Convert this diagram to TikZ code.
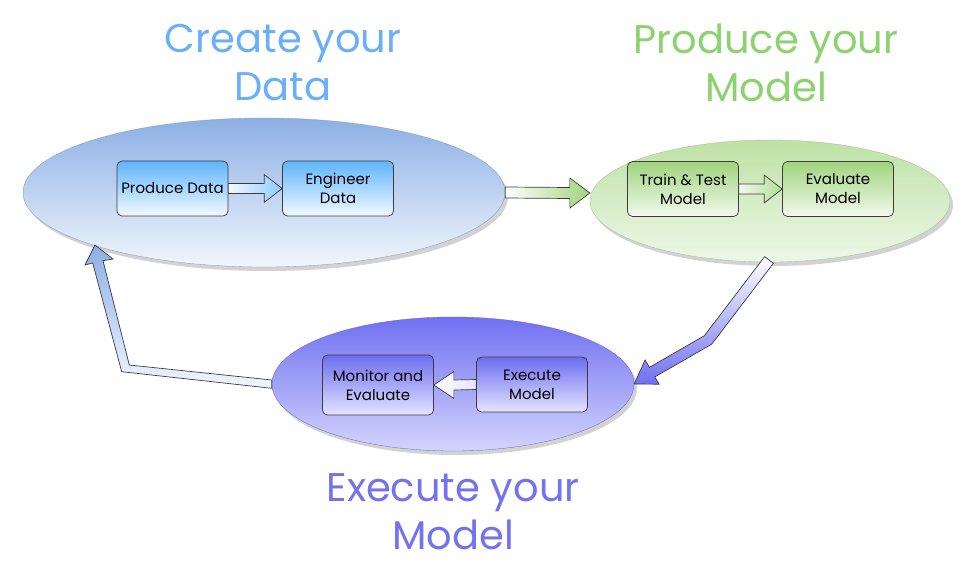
\documentclass[tikz,border=0pt]{standalone}
\usepackage{fontspec}
\setmainfont{Poppins}
\usetikzlibrary{shapes.geometric,shadows,calc}
\definecolor{tblue}{RGB}{105,175,250}
\definecolor{tgreen}{RGB}{140,210,110}
\definecolor{tpurple}{RGB}{115,115,240}
\definecolor{eblueT}{RGB}{140,175,228}
\definecolor{eblueB}{RGB}{242,246,253}
\definecolor{egreenT}{RGB}{190,225,165}
\definecolor{egreenB}{RGB}{238,247,232}
\definecolor{epurpT}{RGB}{112,112,242}
\definecolor{epurpB}{RGB}{212,212,252}
\definecolor{bblueT}{RGB}{95,180,252}
\definecolor{bblueB}{RGB}{242,249,255}
\definecolor{bgreenT}{RGB}{160,212,125}
\definecolor{bgreenB}{RGB}{242,249,238}
\definecolor{bpurpT}{RGB}{108,108,240}
\definecolor{bpurpB}{RGB}{228,228,255}
\definecolor{outl}{RGB}{60,60,60}
\tikzset{
  title/.style={font=\fontsize{40}{48}\selectfont, align=center, inner sep=0pt},
  phase/.style={ellipse, inner sep=0pt, draw=#1T!85!black, line width=0.3pt,
     top color=#1T, bottom color=#1B,
     drop shadow={opacity=0.35, shadow xshift=3pt, shadow yshift=-4pt}},
  stepbox/.style={rectangle, rounded corners=5pt, draw=outl, line width=0.7pt,
     minimum width=111pt, minimum height=55pt, align=center, inner sep=2pt,
     font=\fontsize{15}{19}\selectfont, top color=#1T, bottom color=#1B},
  blockarr/.style={draw=outl, line width=0.7pt, line join=miter},
}
\newcommand{\hblockarrow}[6]{% start, end, half shaft, half head, signed head length, style
  \path[#6] ($(#1)+(0,-#3)$) -- ($(#2)+(-#5,-#3)$) -- ($(#2)+(-#5,-#4)$) -- (#2)
     -- ($(#2)+(-#5,#4)$) -- ($(#2)+(-#5,#3)$) -- ($(#1)+(0,#3)$) -- cycle;}
\begin{document}
\begin{tikzpicture}[x=1pt,y=-1pt]
\useasboundingbox (0,0) rectangle (972,567);
\fill[white] (0,0) rectangle (972,567);

% titles
\node[title, text=tblue] (t1) at (283,63) {Create your\\Data};
\node[title, text=tgreen] (t2) at (766,63) {Produce your\\Model};
\node[title, text=tpurple] (t3) at (453,512) {Execute your\\Model};

% phase ellipses
\node[phase=eblue, minimum width=482pt, minimum height=149pt] (e1) at (264,192.5) {};
\node[phase=egreen, minimum width=360pt, minimum height=122pt] (e2) at (770,201) {};
\node[phase=epurp, minimum width=362pt, minimum height=134pt] (e3) at (453,384) {};

% step boxes
\node[stepbox=bblue] (pd) at (172.5,188.5) {Produce Data};
\node[stepbox=bblue] (ed) at (338,188.5) {Engineer\\Data};
\node[stepbox=bgreen] (tt) at (683,189) {Train \& Test\\Model};
\node[stepbox=bgreen] (em) at (838,189) {Evaluate\\Model};
\node[stepbox=bpurp, minimum height=60pt] (mo) at (378,385) {Monitor and\\Evaluate};
\node[stepbox=bpurp] (ex) at (532,384.5) {Execute\\Model};

% inner block arrows
\hblockarrow{pd.east}{ed.west}{5}{14}{18}{blockarr, left color=bblueB, right color=bblueT!70}
\hblockarrow{tt.east}{em.west}{5}{14}{18}{blockarr, left color=bgreenB, right color=bgreenT!80}
\hblockarrow{ex.west}{mo.east}{5}{13.5}{-20}{blockarr, left color=white, right color=bpurpB}

% big connectors
\coordinate (a1s) at (e1.east);
\coordinate (a1e) at ($(e2.west)+(0,-8)$);
\hblockarrow{a1s}{a1e}{5.5}{15}{20}{blockarr, left color=white, right color=bgreenT}

\coordinate (a2s) at (e2.south);
\coordinate (a2t) at (e3.east);
\path[blockarr, top color=white, bottom color=epurpT]
  (764.6,256.7) -- (773.4,263.3) -- (711.7,344.2) -- (654.8,376.9) -- (659.1,384.2)
  -- (a2t) -- (645.1,360) -- (649.4,367.3) -- (704.3,335.8) -- cycle;

\coordinate (a3s) at (e3.west);
\coordinate (a3t) at (95,245);
\path[blockarr, top color=eblueT, bottom color=eblueB]
  (271.7,380) -- (129.3,365) -- (103,260.7) -- (113,259) -- (a3t) -- (85,265)
  -- (92.7,263) -- (121.7,371.7) -- (271.7,388.3) -- cycle;
\end{tikzpicture}
\end{document}
